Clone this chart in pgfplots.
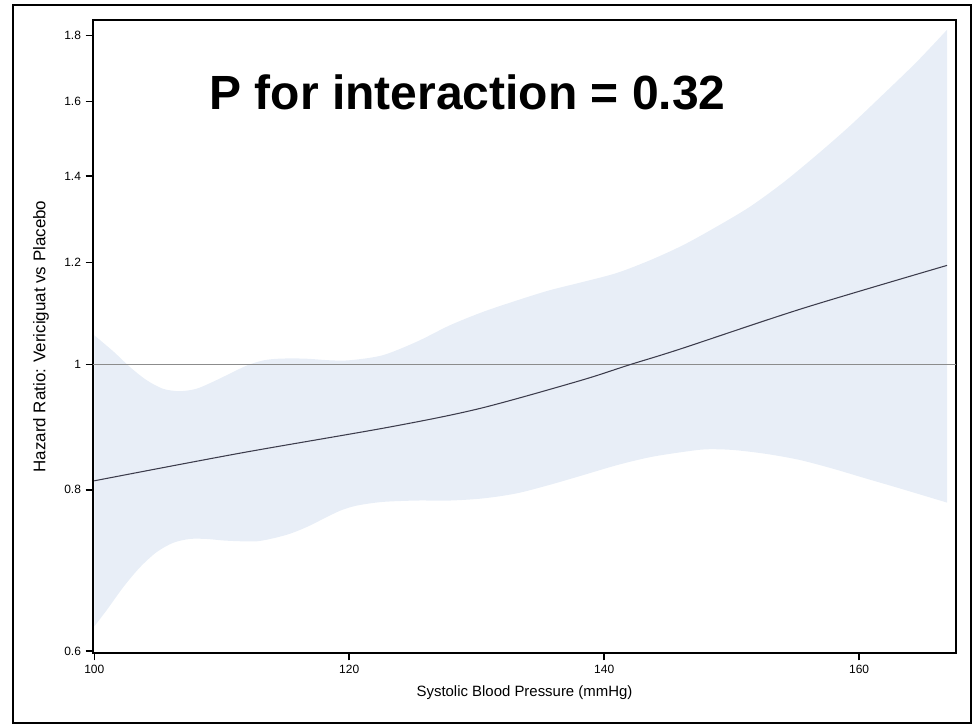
\documentclass[border=0pt]{standalone}
\usepackage{fontspec}
\setmainfont{Liberation Sans}
\usepackage{pgfplots}
\usepackage{pgfplotstable}
\pgfplotsset{compat=1.18}
\usepgfplotslibrary{fillbetween}
\definecolor{bandc}{HTML}{E8EEF7}
\definecolor{linec}{HTML}{3C3C4C}
\definecolor{refc}{HTML}{8C8C8C}

\pgfplotstableread{
x y
100.0 1.054
101.5 1.024
102.8 0.996
104.1 0.973
105.4 0.958
106.7 0.954
108.0 0.958
109.3 0.970
110.7 0.985
112.0 0.999
113.3 1.008
114.6 1.011
116.5 1.011
118.5 1.008
120.0 1.008
122.6 1.017
125.3 1.042
127.9 1.073
130.5 1.099
133.2 1.122
135.7 1.142
138.3 1.159
141.0 1.178
143.6 1.205
146.2 1.238
148.8 1.279
151.4 1.325
154.0 1.383
156.6 1.452
159.2 1.529
161.8 1.617
164.5 1.716
166.9 1.818
}\tabUpper

\pgfplotstableread{
x y
100.0 0.627
101.0 0.646
102.3 0.673
103.6 0.697
104.9 0.716
106.2 0.728
107.5 0.733
108.8 0.733
110.1 0.731
111.4 0.730
112.8 0.730
114.1 0.734
115.4 0.740
116.7 0.749
118.0 0.760
119.3 0.771
120.6 0.778
122.6 0.783
125.3 0.785
127.9 0.785
130.5 0.788
133.1 0.795
135.7 0.807
138.3 0.821
141.0 0.836
143.6 0.848
146.2 0.856
148.0 0.860
150.1 0.859
152.7 0.853
155.3 0.844
157.9 0.831
160.6 0.816
163.2 0.802
166.9 0.782
}\tabLower

\pgfplotstableread{
x y
100.0 0.813
111.4 0.854
123.2 0.895
130.25 0.925
138.1 0.972
142.0 1.000
145.9 1.028
155.6 1.106
166.9 1.194
}\tabCenter

\begin{document}
\begin{tikzpicture}
\path (0pt,0pt) rectangle (732pt,543.75pt);
\draw[line width=1.1pt] (9.75pt,1.5pt) rectangle (728.25pt,540pt);
\begin{axis}[
  at={(69.75pt,54pt)}, anchor=south west,
  scale only axis, width=647.25pt, height=474.75pt,
  xmin=99.9, xmax=167.6,
  ymode=log, ymin=0.598, ymax=1.85,
  xtick={100,120,140,160}, xticklabels={100,120,140,160},
  ytick={0.6,0.8,1,1.2,1.4,1.6,1.8},
  yticklabels={0.6,0.8,1,1.2,1.4,1.6,1.8},
  minor tick num=0, yminorticks=false,
  tick align=outside, tick pos=left,
  major tick length=5.5pt,
  axis line style={line width=1.1pt},
  tick style={line width=1.1pt, black},
  ticklabel style={font=\fontsize{9}{10}\selectfont},
  xlabel={Systolic Blood Pressure (mmHg)},
  ylabel={Hazard Ratio: Vericiguat vs Placebo},
  xlabel style={font=\fontsize{11.2}{12}\selectfont, at={(axis description cs:0.5,-0.0632)}, anchor=center},
  ylabel style={font=\fontsize{12.7}{14}\selectfont, at={(axis description cs:-0.0603,0.5)}, anchor=center},
]
\addplot[name path=U, draw=none, smooth] table {\tabUpper};
\addplot[name path=L, draw=none, smooth] table {\tabLower};
\addplot[bandc, draw=none] fill between[of=U and L];
\addplot[refc, line width=0.7pt] coordinates {(99.9,1) (167.6,1)};
\addplot[linec, line width=0.8pt, smooth] table {\tabCenter};
\end{axis}
\node[anchor=base, font=\bfseries\fontsize{36}{40}\selectfont] at (350.6pt,461.25pt) {P for interaction = 0.32};
\end{tikzpicture}
\end{document}
